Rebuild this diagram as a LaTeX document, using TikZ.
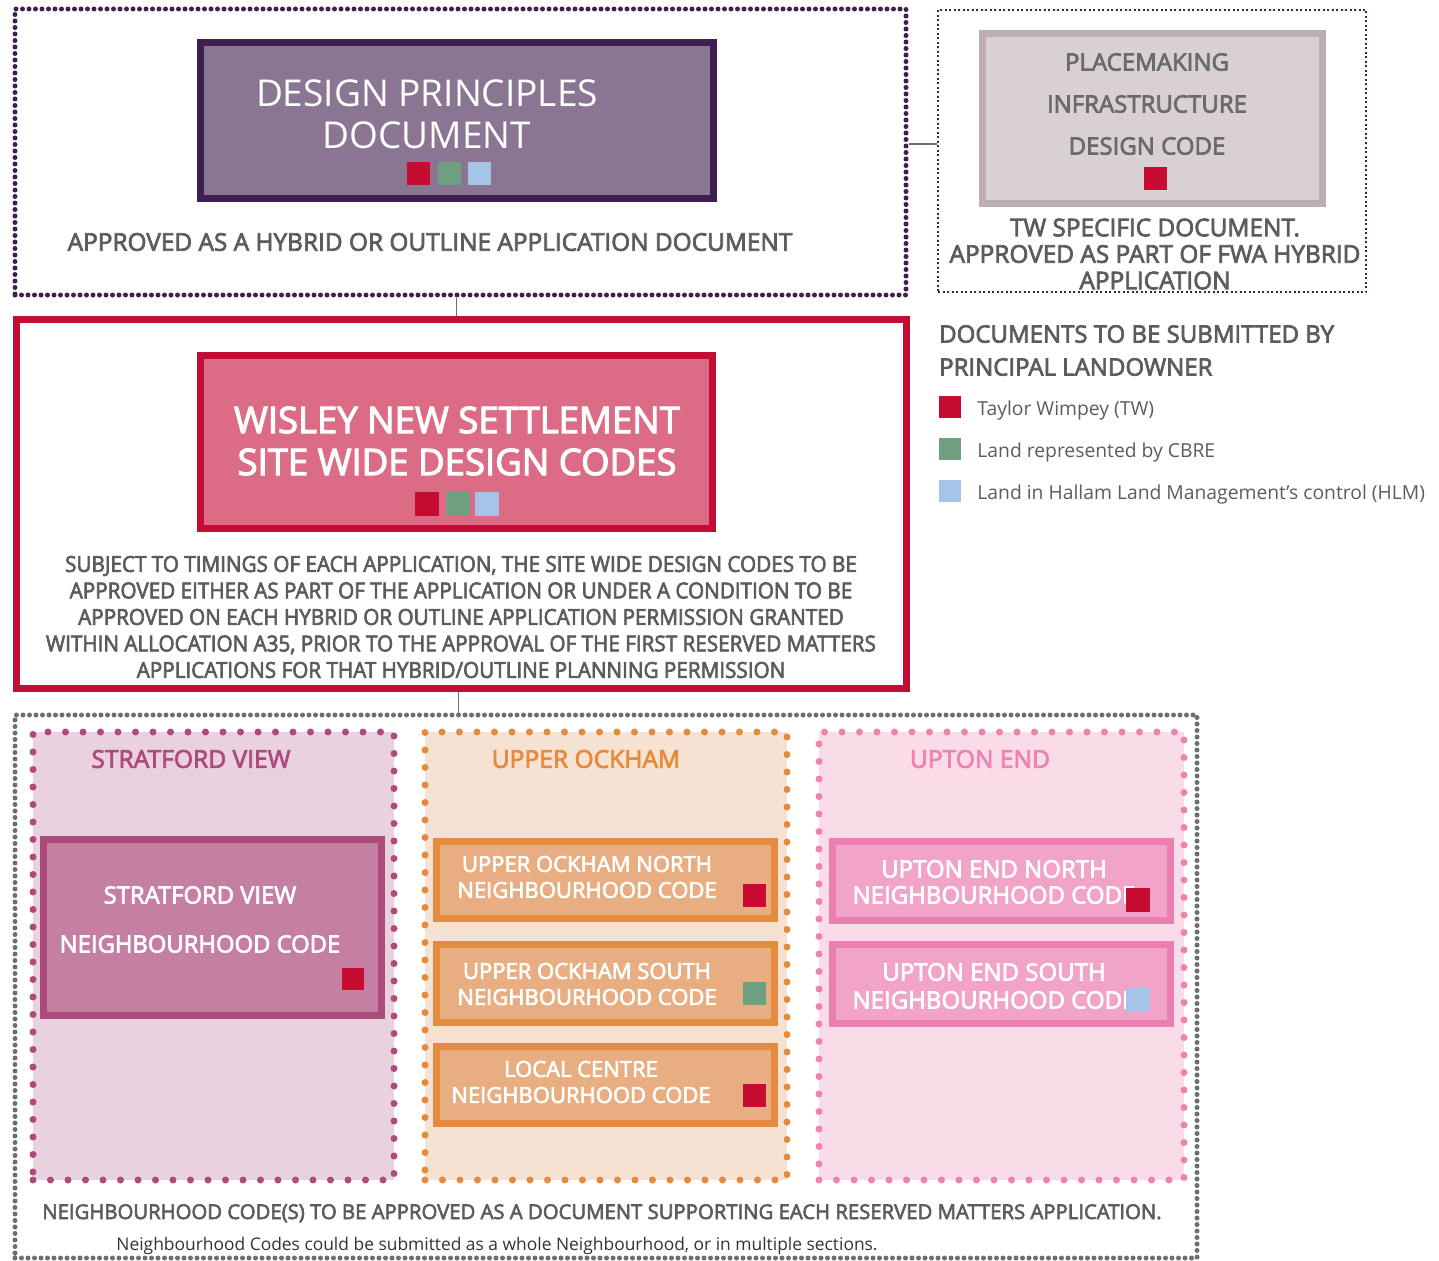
\documentclass[tikz,border=0pt]{standalone}
\usepackage{fontspec}
\setmainfont{Open Sans}
\newfontfamily\semifont[FakeBold=3]{Open Sans}
\newfontfamily\condfont[FakeStretch=0.94,FakeBold=3]{Open Sans}
\definecolor{DPPurple}{HTML}{3F1F52}
\definecolor{DPLilac}{HTML}{8A7592}
\definecolor{TWRed}{HTML}{C60C30}
\definecolor{CBREGreen}{HTML}{6F9E80}
\definecolor{HLMBlue}{HTML}{A6C3E8}
\definecolor{WisleyRed}{HTML}{C30D35}
\definecolor{WisleyPink}{HTML}{DC6C86}
\definecolor{PMBorder}{HTML}{BCAEB3}
\definecolor{PMFill}{HTML}{D9D0D4}
\definecolor{PMText}{HTML}{6A6A6A}
\definecolor{NoteGrey}{HTML}{5C5C5C}
\definecolor{FrameGrey}{HTML}{6E6E6E}
\definecolor{SVDot}{HTML}{B0497E}
\definecolor{SVFill}{HTML}{E9D1DF}
\definecolor{SVBorder}{HTML}{AD4A7C}
\definecolor{SVBox}{HTML}{C57FA3}
\definecolor{UODot}{HTML}{E68B3C}
\definecolor{UOFill}{HTML}{F6E2D2}
\definecolor{UOBorder}{HTML}{E48B3E}
\definecolor{UOBox}{HTML}{E8AD80}
\definecolor{UEDot}{HTML}{EE82B2}
\definecolor{UEFill}{HTML}{FADBE8}
\definecolor{UEBorder}{HTML}{EC7FB0}
\definecolor{UEBox}{HTML}{F2A3C8}
\usetikzlibrary{positioning}

\begin{document}
\begin{tikzpicture}[x=1pt, y=-1pt, every node/.style={inner sep=0pt, align=center},
  docbox/.style={draw=#1, line width=7pt},
  keysq/.style={fill=#1, minimum size=23pt},
  dotframe/.style={draw=#1, line width=5pt, dash pattern=on 0pt off 6.5pt, line cap=round},
  area/.style 2 args={fill=#1, draw=#2, line width=7pt, dash pattern=on 0pt off 17.5pt, line cap=round, minimum width=361pt, minimum height=448pt},
  note/.style={text=NoteGrey, font=\semifont\fontsize{24.4}{26.5}\selectfont},
  areatitle/.style={text=#1, font=\semifont\fontsize{24.6}{27}\selectfont},
  codetext/.style={text=white, font=\semifont\fontsize{#1}{26}\selectfont},
  legtext/.style={text=NoteGrey, font=\fontsize{19.3}{22}\selectfont, yshift=-3pt},
  link/.style={draw=FrameGrey, line width=1.5pt}]
\useasboundingbox (0,0) rectangle (1439,1260);

\node[dotframe=DPPurple, minimum width=891pt, minimum height=286pt] (dpframe) at (460.5,152) {};
\node[docbox=DPPurple, fill=DPLilac, minimum width=513pt, minimum height=156pt] (dp) at (457,120.5) {};
\node[text=white, font=\fontsize{37}{42}\selectfont] (dptitle) at (427,114) {DESIGN PRINCIPLES\\DOCUMENT};
\node[keysq=TWRed] (dptw) at (418,174) {};
\node[keysq=CBREGreen] (dpcb) at (449.5,174) {};
\node[keysq=HLMBlue] (dphl) at (479,174) {};
\node[note] (dpnote) at (430,242) {APPROVED AS A HYBRID OR OUTLINE APPLICATION DOCUMENT};

\node[draw=DPPurple, line width=2.5pt, dash pattern=on 2pt off 2.5pt, minimum width=428pt, minimum height=282pt] (pmframe) at (1152,151) {};
\node[docbox=PMBorder, fill=PMFill, minimum width=340pt, minimum height=170pt] (pm) at (1152.5,118.5) {};
\node[text=PMText, font=\semifont\fontsize{24}{42}\selectfont] (pmtitle) at (1147,104) {PLACEMAKING\\INFRASTRUCTURE\\DESIGN CODE};
\node[keysq=TWRed] (pmtw) at (1155,179) {};
\node[note] (pmnote) at (1155,254) {TW SPECIFIC DOCUMENT.\\APPROVED AS PART OF FWA HYBRID\\APPLICATION};

\node[docbox=WisleyRed, minimum width=890pt, minimum height=369pt] (swframe) at (461.5,504) {};
\node[docbox=WisleyRed, fill=WisleyPink, minimum width=512pt, minimum height=173pt] (sw) at (456.5,442) {};
\node[text=white, font=\semifont\fontsize{36.5}{42}\selectfont] (swtitle) at (457,441) {WISLEY NEW SETTLEMENT\\SITE WIDE DESIGN CODES};
\node[keysq=TWRed, minimum size=24pt] (swtw) at (426.5,503.5) {};
\node[keysq=CBREGreen, minimum size=24pt] (swcb) at (457.5,503.5) {};
\node[keysq=HLMBlue, minimum size=24pt] (swhl) at (487,503.5) {};
\node[text=NoteGrey, font=\condfont\fontsize{22}{26.5}\selectfont] (swnote) at (461,617) {SUBJECT TO TIMINGS OF EACH APPLICATION, THE SITE WIDE DESIGN CODES TO BE\\APPROVED EITHER AS PART OF THE APPLICATION OR UNDER A CONDITION TO BE\\APPROVED ON EACH HYBRID OR OUTLINE APPLICATION PERMISSION GRANTED\\WITHIN ALLOCATION A35, PRIOR TO THE APPROVAL OF THE FIRST RESERVED MATTERS\\APPLICATIONS FOR THAT HYBRID/OUTLINE PLANNING PERMISSION};

\node[text=NoteGrey, font=\semifont\fontsize{24}{33}\selectfont, align=left, anchor=west] (legtitle) at (939,350.5) {DOCUMENTS TO BE SUBMITTED BY\\PRINCIPAL LANDOWNER};
\node[keysq=TWRed, minimum size=22pt] (legtw) at (950,407) {};
\node[keysq=CBREGreen, minimum size=22pt] (legcb) at (950,449) {};
\node[keysq=HLMBlue, minimum size=22pt] (leghl) at (950,491) {};
\node[legtext, right=16pt of legtw] (legtwtext) {Taylor Wimpey (TW)};
\node[legtext, right=16pt of legcb] (legcbtext) {Land represented by CBRE};
\node[legtext, right=16pt of leghl] (leghltext) {Land in Hallam Land Management’s control (HLM)};

\node[dotframe=FrameGrey, minimum width=1182pt, minimum height=543pt] (nbframe) at (606,986.5) {};
\node[area={SVFill}{SVDot}] (sv) at (213.5,956) {};
\node[area={UOFill}{UODot}, minimum width=362pt] (uo) at (606,956) {};
\node[area={UEFill}{UEDot}, minimum width=365pt] (ue) at (1001.5,956) {};
\node[areatitle=SVDot] (svtitle) at (191,759) {STRATFORD VIEW};
\node[areatitle=UODot] (uotitle) at (586,759) {UPPER OCKHAM};
\node[areatitle=UEDot] (uetitle) at (980,759) {UPTON END};

\node[docbox=SVBorder, fill=SVBox, minimum width=338pt, minimum height=176pt] (svcode) at (212.5,927.5) {};
\node[codetext=23.8, font=\semifont\fontsize{23.8}{49}\selectfont] (svtext) at (200,919.5) {STRATFORD VIEW\\NEIGHBOURHOOD CODE};
\node[keysq=TWRed, minimum size=22pt] (svtw) at (353,978.5) {};

\node[docbox=UOBorder, fill=UOBox, minimum width=338pt, minimum height=77pt] (uon) at (605.5,880) {};
\node[codetext=22] (uontext) at (587,877) {UPPER OCKHAM NORTH\\NEIGHBOURHOOD CODE};
\node[keysq=TWRed] (uontw) at (754,895.5) {};
\node[docbox=UOBorder, fill=UOBox, minimum width=338pt, minimum height=78pt] (uos) at (605.5,983.5) {};
\node[codetext=22] (uostext) at (587,984) {UPPER OCKHAM SOUTH\\NEIGHBOURHOOD CODE};
\node[keysq=CBREGreen] (uoscb) at (754,993.5) {};
\node[docbox=UOBorder, fill=UOBox, minimum width=338pt, minimum height=77pt] (lc) at (605.5,1085) {};
\node[codetext=22] (lctext) at (581,1082) {LOCAL CENTRE\\NEIGHBOURHOOD CODE};
\node[keysq=TWRed] (lctw) at (754,1095) {};

\node[docbox=UEBorder, fill=UEBox, minimum width=338pt, minimum height=79pt] (uen) at (1001.5,881) {};
\node[codetext=24, font=\semifont\fontsize{24}{26}\selectfont] (uentext) at (994,882) {UPTON END NORTH\\NEIGHBOURHOOD CODE};
\node[keysq=TWRed, minimum size=24pt] (uentw) at (1138,900) {};
\node[docbox=UEBorder, fill=UEBox, minimum width=338pt, minimum height=79pt] (ues) at (1001.5,984) {};
\node[codetext=24, font=\semifont\fontsize{24}{28}\selectfont] (uestext) at (994,986) {UPTON END SOUTH\\NEIGHBOURHOOD CODE};
\node[keysq=HLMBlue, minimum size=24pt] (ueshl) at (1138,1000) {};

\node[text=NoteGrey, font=\semifont\fontsize{20.3}{24}\selectfont, anchor=base] (nbnote) at (602,1219) {NEIGHBOURHOOD CODE(S) TO BE APPROVED AS A DOCUMENT SUPPORTING EACH RESERVED MATTERS APPLICATION.};
\node[text=black!80, font=\fontsize{17.4}{21}\selectfont, anchor=base] (nbhint) at (497,1250) {Neighbourhood Codes could be submitted as a whole Neighbourhood, or in multiple sections.};

\draw[link] ([yshift=8pt]dpframe.east) -- ([yshift=8pt]dpframe.east -| pmframe.west);
\draw[link] ([xshift=-4pt]dpframe.south) -- ([xshift=-4pt]dpframe.south |- swframe.north);
\draw[link] ([xshift=-3pt]swframe.south) -- ([xshift=-3pt]swframe.south |- nbframe.north);
\end{tikzpicture}
\end{document}
